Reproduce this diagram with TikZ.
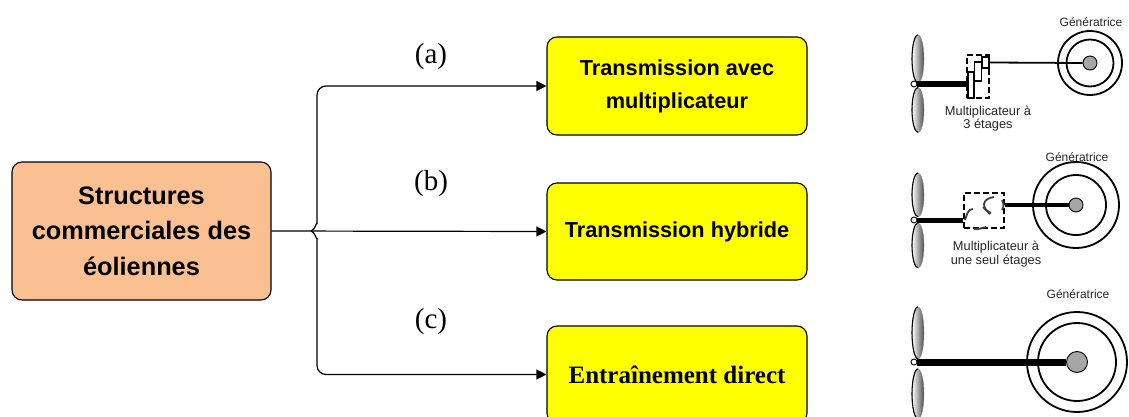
\documentclass[tikz,border=0pt]{standalone}
\usepackage{fontspec}
\setmainfont{Liberation Sans}
\newfontfamily\serifnum{Liberation Serif}
\usetikzlibrary{positioning, arrows.meta, shapes.geometric}
\definecolor{srcfill}{RGB}{250, 192, 146}
\definecolor{boxfill}{RGB}{255, 255, 0}
\tikzset{
    mainbox/.style={rectangle, rounded corners=10pt, draw, line width=1.1pt, align=center, inner sep=0pt, font=\bfseries},
    srcnode/.style={mainbox, fill=srcfill, minimum width=259pt, minimum height=138pt, font=\fontsize{25.3}{35.5}\selectfont\bfseries},
    typenode/.style={mainbox, fill=boxfill, minimum width=260pt, minimum height=97pt, font=\fontsize{21.7}{33}\selectfont\bfseries},
    caselabel/.style={font=\fontsize{29}{32}\selectfont\serifnum},
    smalllabel/.style={align=center, inner sep=0pt, text=black!85, font=\fontsize{12}{13.5}\selectfont},
    mullabel/.style={smalllabel, font=\fontsize{12.8}{13.5}\selectfont},
    wire/.style={line width=1.2pt},
    arrowwire/.style={wire, rounded corners=9pt, -{Triangle[length=10pt,width=10pt]}},
    blade/.style={ellipse, inner sep=0pt, minimum width=12pt, draw=gray, line width=.4pt, left color=white, right color=black!70},
    bladeedge/.style={line width=1.1pt},
    hubnode/.style={circle, draw, fill=white, line width=.9pt, inner sep=0pt, minimum size=6pt},
    gencircle/.style={circle, draw, fill=white, line width=1.8pt, inner sep=0pt},
    gencore/.style={circle, draw, fill=gray!70, line width=.9pt, inner sep=0pt},
    gearbar/.style={rectangle, draw, fill=white, line width=1.6pt, inner sep=0pt},
    gearbox/.style={rectangle, draw, dash pattern=on 6pt off 3pt, line width=1.1pt, inner sep=0pt},
    gearcurve/.style={line width=1.8pt, draw=black!75}
}
\begin{document}
\begin{tikzpicture}[x=1pt,y=-1pt]
\useasboundingbox (0,0) rectangle (1129,417);
% main boxes
\node[srcnode] (src) at (141.5,231) {Structures\\commerciales des\\éoliennes};
\node[typenode, minimum height=98pt] (tra) at (677,86) {Transmission avec\\multiplicateur};
\node[typenode] (trb) at (677,231.5) {Transmission hybride};
\node[typenode, font=\fontsize{25}{28}\selectfont\serifnum\bfseries] (trc) at (677,374.5) {Entraînement direct};
\node[caselabel] (laba) at (431,57) {(a)};
\node[caselabel] (labb) at (431,184) {(b)};
\node[caselabel] (labc) at (431,322) {(c)};
% fork
\coordinate (fork) at (311,231);
\coordinate (forkup) at (317,224);
\coordinate (forkdown) at (317,238);
\draw[wire, -{Triangle[length=10pt,width=10pt]}] (src.east) -- (trb.west);
\draw[wire] (fork) to[out=0,in=-90] (forkdown);
\draw[wire] (fork) to[out=0,in=90] (forkup);
\draw[arrowwire] (forkup) |- (tra.west);
\draw[arrowwire] (forkdown) |- (trc.west);
% (a) three stage
\node[blade, minimum height=48pt] (bladeaup) at (918,59) {};
\node[blade, minimum height=45pt] (bladealo) at (918,110) {};
\node[hubnode] (huba) at (914,84) {};
\node[gencircle, minimum size=64pt] (genaout) at (1090,63) {};
\node[gencircle, minimum size=47pt] (genain) at (1090,63) {};
\node[gencore, minimum width=14pt, minimum height=12pt] (genacore) at (1090,63) {};
\node[gearbox, minimum width=22pt, minimum height=43pt] (gearsa) at (978,76.5) {};
\node[gearbar, minimum width=6.5pt, minimum height=26pt] (bara) at (971,85) {};
\node[gearbar, minimum width=7pt, minimum height=19pt] (barb) at (978,71.5) {};
\node[gearbar, minimum width=7pt, minimum height=11pt] (barc) at (985.5,62.5) {};
\draw[line width=5.5pt] (huba.east) -- (bara.west |- huba.east);
\draw[line width=1.8pt] (barc.east) -- (genacore.west);
\node[smalllabel] (txtgena) at (1091,22) {Génératrice};
\node[mullabel] (txtmula) at (988,118.5) {Multiplicateur à\\3 étages};
% (b) one stage
\node[blade, minimum height=44pt] (bladebup) at (918,195) {};
\node[blade, minimum height=45pt] (bladeblo) at (918,245.5) {};
\node[hubnode] (hubb) at (914,220) {};
\node[gencircle, minimum size=86pt] (genbout) at (1076,205) {};
\node[gencircle, minimum size=60pt] (genbin) at (1076,205) {};
\node[gencore, minimum size=14pt] (genbcore) at (1076,205) {};
\node[gearbox, minimum width=40pt, minimum height=35pt] (gearsb) at (984,210.5) {};
\draw[line width=5pt] (hubb.east) -- (gearsb.west |- hubb.east);
\draw[line width=3.5pt] (gearsb.east |- genbcore.west) -- (genbcore.west);
\draw[gearcurve] (965,220) to[out=70,in=180] (973,209);
\draw[gearcurve] (991,213) to[out=160,in=-90] (984,204) to[out=80,in=190] (994,197);
\draw[gearcurve] (983,207) -- (990,214);
\draw[gearcurve] (1002,200) to[out=-60,in=60] (1002,210);
\draw[gearcurve] (974,229) to[out=-10,in=190] (986,227);
\node[smalllabel] (txtgenb) at (1077,157) {Génératrice};
\node[mullabel] (txtmulb) at (996,254) {Multiplicateur à\\une seul étages};
% (c) direct
\node[blade, minimum height=52pt] (bladecup) at (918,333) {};
\node[blade, minimum height=50pt] (bladeclo) at (918,394) {};
\node[hubnode] (hubc) at (914,362) {};
\node[gencircle, minimum size=100pt] (gencout) at (1077,362) {};
\node[gencircle, minimum size=78pt] (gencin) at (1077,362) {};
\node[gencore, minimum size=21pt] (genccore) at (1077,362) {};
\draw[line width=7pt] (hubc.east) -- (genccore.west);
\node[smalllabel] (txtgenc) at (1078,294) {Génératrice};
% blade edges
\foreach \nm/\ry in {bladeaup/24, bladealo/22.5, bladebup/22, bladeblo/22.5, bladecup/26, bladeclo/25}
    \draw[bladeedge] (\nm.north) arc[start angle=90, end angle=270, x radius=6pt, y radius=\ry pt];
\end{tikzpicture}
\end{document}
